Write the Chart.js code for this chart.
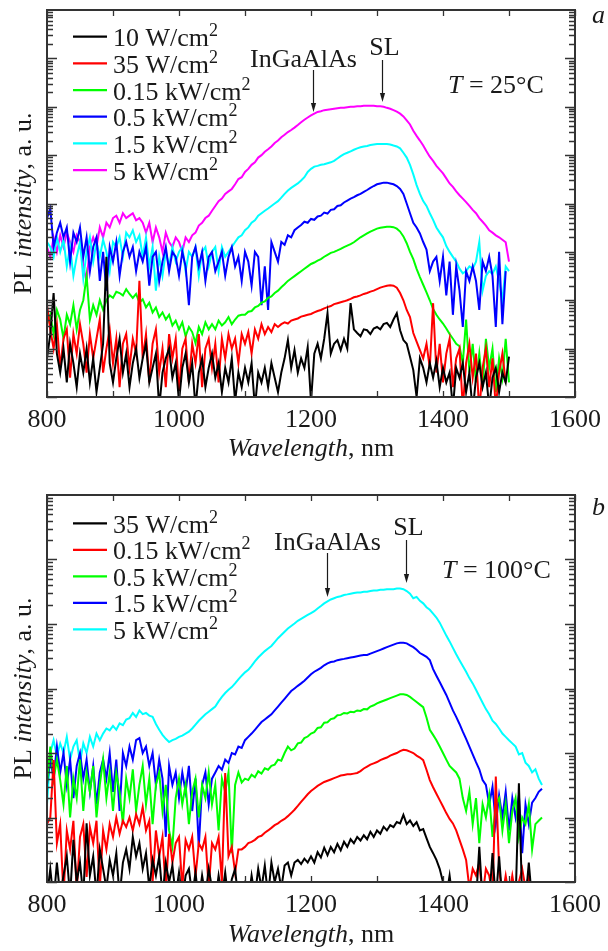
<!DOCTYPE html>
<html>
<head>
<meta charset="utf-8">
<script src="https://cdn.jsdelivr.net/npm/chart.js@4.4.1/dist/chart.umd.min.js"></script>
<style>
html, body { margin: 0; padding: 0; background: #fff; }
#wrap { position: relative; width: 608px; height: 951px; }
.box { position: absolute; left: 0; width: 608px; }
canvas { display: block; }
</style>
</head>
<body>
<div id="wrap">
  <div class="box" style="top:0;height:470px"><canvas id="chA" width="608" height="470"></canvas></div>
  <div class="box" style="top:470px;height:481px"><canvas id="chB" width="608" height="481"></canvas></div>
</div>
<script>
// wavelength grid (nm), 5 nm step
var wlA = [];
for (var w = 800; w <= 1500; w += 5) wlA.push(w);
var wlB = [];
for (var w2 = 800; w2 <= 1550; w2 += 5) wlB.push(w2);

var xTicks = [800, 900, 1000, 1100, 1200, 1300, 1400, 1500, 1600];
var xLabels = [800, 1000, 1200, 1400, 1600];

// panel a, T = 25 C
var namesA = ['10 W/cm²', '35 W/cm²', '0.15 kW/cm²', '0.5 kW/cm²', '1.5 kW/cm²', '5 kW/cm²'];
var colorsA = ['#000000', '#ff0000', '#00ff00', '#0000ff', '#00ffff', '#ff00ff'];

var a10W = [
6.3, 20, 141, 7.9, 3.2, 10, 2, 12.6, 5, 1.6,
7.9, 3.2, 10, 2, 6.3, 1.26, 4, 12.6, 794, 5,
2, 6.3, 16, 3.2, 7.9, 1.6, 5, 10, 2.5, 6.3,
12.6, 2, 4, 7.9, 0.6, 3.2, 6.3, 10, 2.5, 5,
0.8, 4, 7.9, 2, 5, 0.6, 3.2, 6.3, 1.6, 4,
7.9, 2.5, 5, 1.26, 4, 2, 6.3, 0.8, 3.2, 1.6,
4, 2, 5, 0.6, 3.2, 2, 4, 1.6, 5, 2.5,
1.26, 3.2, 6.3, 15, 4, 9.3, 3.2, 6.3, 4, 10.7,
0.8, 7.9, 12.6, 6.3, 16, 54, 7.9, 12.6, 15, 9.3,
16, 10, 87, 25, 21, 18, 25, 24, 20, 26,
28, 25, 32, 34, 28, 40, 54, 24, 15, 12.6,
6.8, 3.6, 1, 6.3, 4, 2, 5, 2.5, 5.6, 1.6,
4, 2, 3.2, 0.6, 4, 2.5, 5, 1.26, 3.2, 0.5,
2.5, 5, 1.6, 3.2, 0.6, 2.5, 4, 1.26, 3.2, 2, 6.8
];
var a35W = [
79, 25, 10, 32, 4, 16, 25, 2.5, 20, 7.9,
32, 12.6, 3.2, 20, 6.3, 16, 40, 3.2, 10, 25,
5, 16, 1.6, 12.6, 20, 4, 16, 7.9, 251, 6.3,
20, 2, 12.6, 25, 3.2, 10, 1.6, 20, 6.3, 16,
1.26, 10, 16, 2, 12.6, 5, 20, 1.6, 10, 16,
4, 12.6, 2, 16, 6.3, 20, 10, 16, 5, 20,
12.6, 22, 7.9, 25, 16, 32, 20, 28, 22, 32,
28, 32, 35, 33, 38, 40, 42, 46, 48, 50,
52, 56, 60, 63, 68, 72, 76, 83, 87, 91,
95, 100, 107, 115, 120, 126, 135, 141, 151, 158,
170, 182, 191, 200, 204, 200, 182, 141, 100, 63,
45, 21, 14, 9.3, 6.3, 12.6, 4, 87, 3.2, 12.6,
2, 7.9, 16, 1.6, 6.3, 10, 0.6, 5, 12.6, 2.5,
7.9, 0.5, 4, 10, 1.6, 6.3, 0.6, 3.2, 7.9, 2, null
];
var a015kW = [
32, 50, 20, 63, 40, 16, 50, 32, 79, 25,
63, 100, 320, 40, 79, 50, 100, 63, 100, 126,
112, 150, 141, 126, 170, 135, 112, 135, 89, 105,
71, 89, 56, 71, 45, 56, 40, 50, 30, 38,
25, 35, 18, 28, 22, 13, 28, 20, 35, 25,
32, 25, 38, 30, 35, 45, 32, 40, 48, 50,
50, 58, 60, 71, 76, 89, 95, 112, 120, 141,
158, 186, 214, 251, 282, 316, 355, 398, 447, 501,
562, 603, 661, 708, 794, 871, 955, 1000, 1070, 1150,
1260, 1350, 1450, 1580, 1780, 2000, 2190, 2400, 2630, 2820,
3020, 3160, 3240, 3310, 3310, 3240, 3020, 2630, 2090, 1510,
1000, 708, 447, 302, 209, 145, 100, 66, 50, 40,
33, 26, 20, 16, 12.6, 11.2, 5, 40, 3.2, 12.6,
2, 7.9, 1.6, 16, 4, 10, 1.26, 6.3, 2.5, 16, 2
];
var a05kW = [
5.0e3, 7.9e3, 1.26e3, 2.5e3, 4.0e3, 2.0e3, 3.2e3, 630, 2.5e3, 1.6e3,
3.2e3, 790, 2.0e3, 400, 1.26e3, 2.0e3, 250, 1.0e3, 158, 1.26e3,
630, 1.6e3, 320, 1.0e3, 1.6e3, 790, 1.26e3, 400, 1.0e3, 630,
1.26e3, 200, 790, 1.0e3, 250, 630, 1.26e3, 400, 1.0e3, 790,
320, 1.0e3, 500, 79, 790, 1.26e3, 500, 1.0e3, 250, 790,
1.0e3, 400, 630, 1.0e3, 320, 790, 1.26e3, 500, 790, 250,
1.0e3, 630, 200, 1.0e3, 790, 79, 500, 63, 1.6e3, 1.0e3,
630, 1.6e3, 1.4e3, 2.2e3, 2.0e3, 2.8e3, 3.2e3, 3.6e3, 4.2e3, 4.0e3,
4.8e3, 4.6e3, 5.4e3, 5.6e3, 6.5e3, 6.2e3, 7.4e3, 7.6e3, 8.9e3, 9.2e3,
1.05e4, 1.15e4, 1.26e4, 1.35e4, 1.48e4, 1.58e4, 1.74e4, 1.9e4, 2.1e4, 2.3e4,
2.5e4, 2.6e4, 2.7e4, 2.7e4, 2.6e4, 2.5e4, 2.3e4, 2.0e4, 1.58e4, 1.0e4,
6.3e3, 4.0e3, 3.2e3, 2.4e3, 1.6e3, 1.12e3, 400, 630, 790, 250,
790, 126, 630, 50, 500, 158, 28, 400, 250, 500,
250, 63, 630, 400, 790, 320, 28, 1.0e3, 32, 400, null
];
var a15kW = [
1.6e3, 1.26e3, 790, 2.0e3, 1.0e3, 1.78e3, 500, 1.26e3, 320, 790,
1.6e3, 280, 1.0e3, 2.0e3, 630, 1.6e3, 790, 1.78e3, 1.0e3, 400,
1.6e3, 1.26e3, 2.0e3, 790, 2.5e3, 2.0e3, 2.8e3, 1.6e3, 2.2e3, 790,
2.0e3, 500, 1.26e3, 158, 790, 320, 1.0e3, 500, 1.26e3, 630,
1.0e3, 1.26e3, 400, 1.0e3, 790, 1.26e3, 320, 1.0e3, 1.26e3, 500,
1.0e3, 1.26e3, 400, 1.26e3, 790, 1.0e3, 1.26e3, 1.6e3, 2.0e3, 2.2e3,
2.8e3, 3.2e3, 4.0e3, 4.5e3, 5.6e3, 6.3e3, 7.1e3, 7.9e3, 8.9e3, 1.0e4,
1.12e4, 1.32e4, 1.58e4, 1.86e4, 2.1e4, 2.34e4, 2.6e4, 3.0e4, 3.5e4, 4.5e4,
5.2e4, 5.8e4, 6.0e4, 6.3e4, 6.5e4, 6.8e4, 7.1e4, 7.6e4, 8.5e4, 9.5e4,
1.05e5, 1.12e5, 1.2e5, 1.29e5, 1.38e5, 1.45e5, 1.51e5, 1.55e5, 1.62e5, 1.66e5,
1.7e5, 1.7e5, 1.7e5, 1.7e5, 1.66e5, 1.58e5, 1.51e5, 1.38e5, 1.12e5, 8.9e4,
6.3e4, 4.0e4, 2.4e4, 1.58e4, 1.12e4, 8.9e3, 6.3e3, 4.6e3, 3.2e3, 2.5e3,
2.0e3, 1.32e3, 1.0e3, 790, 630, 450, 360, 400, 500, 450,
630, 1.6e3, 158, 320, 400, 350, 500, 250, 100, 500, 400
];
var a5kW = [
1.26e3, 790, 2.0e3, 1.0e3, 2.2e3, 1.26e3, 2.5e3, 1.6e3, 1.0e3, 2.2e3,
1.6e3, 500, 250, 1.26e3, 2.0e3, 1.26e3, 3.2e3, 2.0e3, 4.0e3, 3.2e3,
5.0e3, 5.6e3, 4.0e3, 6.3e3, 5.0e3, 5.6e3, 6.3e3, 4.5e3, 5.0e3, 4.0e3,
2.5e3, 4.0e3, 1.6e3, 3.2e3, 2.0e3, 1.0e3, 2.5e3, 1.6e3, 1.26e3, 2.0e3,
1.6e3, 1.0e3, 2.0e3, 1.6e3, 2.2e3, 2.5e3, 3.5e3, 4.0e3, 5.0e3, 5.6e3,
7.1e3, 8.9e3, 1.12e4, 1.26e4, 1.58e4, 1.78e4, 2.0e4, 2.5e4, 3.2e4, 3.5e4,
4.5e4, 5.2e4, 6.3e4, 7.1e4, 8.9e4, 1.0e5, 1.17e5, 1.32e5, 1.51e5, 1.78e5,
2.0e5, 2.34e5, 2.63e5, 3.0e5, 3.3e5, 3.7e5, 4.2e5, 4.8e5, 5.4e5, 6.0e5,
6.6e5, 7.2e5, 7.8e5, 8.1e5, 8.5e5, 8.7e5, 8.9e5, 9.1e5, 9.3e5, 9.5e5,
9.5e5, 9.8e5, 1.0e6, 1.0e6, 1.02e6, 1.02e6, 1.05e6, 1.05e6, 1.05e6, 1.05e6,
1.02e6, 1.02e6, 1.0e6, 9.5e5, 9.1e5, 8.5e5, 7.9e5, 7.2e5, 6.3e5, 5.2e5,
4.3e5, 3.2e5, 2.5e5, 2.0e5, 1.58e5, 1.2e5, 9.3e4, 7.6e4, 6.0e4, 5.0e4,
4.2e4, 3.3e4, 2.6e4, 2.2e4, 1.78e4, 1.48e4, 1.26e4, 1.07e4, 8.9e3, 7.4e3,
6.3e3, 5.0e3, 4.2e3, 3.5e3, 2.8e3, 2.5e3, 2.2e3, 2.0e3, 1.78e3, 1.58e3, 630
];

// panel b, T = 100 C
var namesB = ['35 W/cm²', '0.15 kW/cm²', '0.5 kW/cm²', '1.5 kW/cm²', '5 kW/cm²'];
var colorsB = ['#000000', '#ff0000', '#00ff00', '#0000ff', '#00ffff'];

var b35W = [
0.6, 1.6, 0.5, 2, 0.6, 1.26, 2.5, 0.6, 4.5, 1,
2, 0.6, 8.1, 1.26, 2.5, 0.6, 3.2, 1.6, 0.8, 2.2,
1.26, 2.8, 0.6, 2, 3.2, 1.6, 5, 2.5, 4, 1.6,
2.8, 0.8, 2.2, 1.26, 2.5, 0.6, 2, 1, 1.8, 0.6,
1.4, 0.5, 1.26, 1.6, 0.6, 1.4, 0.5, 1.26, 0.6, 1.6,
0.8, 0.5, 1.26, 0.6, 1.4, 0.5, 1.1, 1.6, 0.5, 0.8,
1, 0.5, 1.26, 0.6, 1.6, 0.8, 1.8, 0.6, 2, 1,
1.6, 0.8, 1.8, 2, 1.26, 2, 2.2, 1.9, 2.3, 2,
2.5, 2.0, 2.9, 2.4, 3.4, 2.6, 3.5, 2.9, 3.9, 3.1,
4.2, 3.5, 4.6, 4.0, 5.0, 4.4, 5.3, 4.6, 6.0, 5.0,
6.3, 5.6, 7.2, 6.3, 7.6, 7.1, 8.5, 8.1, 11, 7.9,
9, 7.4, 8.5, 6.3, 6.6, 4.8, 3.5, 2.8, 2.2, 1.6,
1, 0.6, 1.26, 0.5, 0.5, 0.5, 0.5, 0.5, 0.5, 0.5,
0.5, 3.5, 0.5, 0.5, 0.5, 2.8, 0.5, 2.5, 0.5, 0.5,
0.5, 0.5, 0.5, 34, 0.5, 0.5, 2, 0.5, null, null, null
];
var b015kW = [
7.9, 10, 78, 4, 7.9, 0.6, 6.3, 3.2, 8.9, 0.7,
5, 7.9, 1.2, 7.1, 4, 8.9, 0.8, 6.3, 3.2, 7.9,
5, 10, 5.6, 8.9, 7.1, 10, 6.3, 11.2, 7.9, 14.5,
6.3, 8.9, 1.0, 6.3, 2.5, 5, 0.7, 5.6, 2, 4,
5, 0.8, 4.5, 3.2, 5, 1.2, 4, 3.2, 5, 0.8,
4, 3.2, 5, 1.0, 49, 2.5, 3.5, 1.4, 3.2, 3.2,
3.5, 4, 4.2, 4.5, 5, 5.2, 5.8, 6.3, 6.9, 7.6,
8.1, 8.9, 9.5, 10.5, 11.7, 13.2, 15.1, 17.4, 20, 22.9,
25.7, 28.2, 30.9, 33.1, 35.5, 37.2, 38.9, 40.7, 42.7, 44.7,
45.7, 46.8, 46.8, 47.9, 49, 52.5, 57.5, 61.7, 66.1, 69.2,
72.4, 77.6, 81.3, 85.1, 91.2, 95.5, 100, 107, 112, 110,
105, 100, 91.2, 85.1, 77.6, 55, 38, 29.5, 23.4, 18.6,
14.8, 11.7, 9.5, 8.1, 6.3, 4.5, 3.2, 2.2, 0.8, 1.6,
1.26, 2, 0.6, 1.6, 1.26, 0.6, 43, 1.6, 0.6, 1.26,
0.6, 1.26, 0.6, 1, 1.6, 0.8, 1.26, 0.6, null, null, null
];
var b05kW = [
32, 126, 40, 79, 38, 16, 63, 10, 40, 20,
79, 12.6, 50, 25, 63, 10, 32, 79, 20, 50,
12.6, 49, 25, 7.9, 40, 20, 56, 12.6, 32, 63,
16, 40, 7.9, 32, 50, 12.6, 32, 6.3, 3.5, 20,
40, 16, 32, 7.9, 25, 40, 10, 32, 20, 50,
16, 32, 6.3, 40, 25, 50, 2.8, 32, 50, 35,
40, 38, 46, 42, 52, 48, 58, 55, 63, 66,
79, 76, 100, 126, 110, 117, 141, 145, 170, 180,
200, 210, 245, 250, 295, 300, 335, 345, 385, 390,
417, 410, 437, 430, 457, 450, 479, 475, 525, 550,
589, 617, 646, 676, 708, 741, 776, 813, 813, 794,
741, 676, 617, 562, 513, 355, 229, 191, 158, 126,
100, 79, 63, 56, 50, 40, 20, 12.6, 25, 7.9,
20, 4, 16, 10, 22, 5, 16, 20, 6.3, 16,
4, 12.6, 20, 5, 10, 7.9, 16, 3.2, 7.9, 8.9, 10
];
var b15kW = [
32, 79, 40, 126, 50, 100, 32, 79, 20, 63,
100, 40, 79, 25, 63, 16, 50, 79, 40, 100,
25, 79, 12.6, 100, 63, 126, 79, 158, 170, 100,
126, 63, 100, 32, 79, 40, 5, 63, 32, 50,
20, 50, 25, 63, 12.6, 40, 3.5, 32, 50, 16,
40, 50, 63, 55, 79, 70, 100, 95, 126, 120,
158, 178, 200, 229, 263, 302, 331, 363, 398, 457,
525, 603, 692, 794, 912, 1000, 1100, 1200, 1320, 1480,
1660, 1820, 1950, 2090, 2290, 2450, 2570, 2630, 2750, 2820,
2880, 2950, 3020, 3090, 3160, 3240, 3310, 3310, 3470, 3630,
3800, 3980, 4170, 4370, 4570, 4790, 5010, 5130, 5130, 5010,
4680, 4370, 3980, 3550, 3310, 3090, 2750, 2000, 1580, 1260,
1000, 794, 603, 457, 363, 282, 214, 166, 126, 95,
72, 56, 38, 32, 16, 30, 7.9, 22, 10, 25,
6.3, 20, 10, 22, 2.8, 16, 7.9, 17, 20, 25, 28
];
var b5kW = [
16, 100, 158, 89, 141, 100, 178, 79, 126, 158,
71, 141, 100, 178, 126, 200, 158, 200, 240, 224,
263, 229, 288, 270, 331, 347, 417, 363, 457, 400,
417, 380, 363, 282, 229, 191, 166, 148, 158, 166,
178, 186, 200, 214, 240, 275, 316, 355, 398, 437,
479, 525, 631, 741, 851, 955, 1050, 1200, 1380, 1580,
1780, 1950, 2240, 2630, 3020, 3390, 3800, 4170, 4570, 5250,
6030, 6760, 7590, 8510, 9330, 1.02e4, 1.12e4, 1.2e4, 1.29e4, 1.38e4,
1.48e4, 1.58e4, 1.74e4, 1.9e4, 2.09e4, 2.24e4, 2.4e4, 2.51e4, 2.63e4, 2.69e4,
2.82e4, 2.88e4, 2.95e4, 3.02e4, 3.09e4, 3.09e4, 3.16e4, 3.16e4, 3.24e4, 3.31e4,
3.31e4, 3.39e4, 3.39e4, 3.47e4, 3.47e4, 3.47e4, 3.55e4, 3.55e4, 3.47e4, 3.24e4,
2.95e4, 2.51e4, 2.63e4, 2.29e4, 2.09e4, 1.82e4, 1.66e4, 1.45e4, 1.26e4, 1.05e4,
8320, 6610, 5370, 4270, 3390, 2750, 2240, 1820, 1450, 1200,
955, 759, 603, 479, 398, 316, 282, 240, 200, 178,
158, 141, 126, 95, 100, 71, 63, 50, 56, 40, 32
];

var FONT = '"Liberation Serif", "Times New Roman", serif';
var INK = '#1a1a1a';

function fontFor(style, size) {
    if (style === 'i') return 'italic ' + size + 'px ' + FONT;
    if (style === 's') return Math.round(size * 0.68) + 'px ' + FONT;
    return size + 'px ' + FONT;
}

// runs: [[text, style]] with style '' normal, 'i' italic, 's' superscript
function drawRuns(ctx, runs, x, y, align, size) {
    var total = 0, i;
    for (i = 0; i < runs.length; i++) {
        ctx.font = fontFor(runs[i][1], size);
        total += ctx.measureText(runs[i][0]).width;
    }
    var cx = x;
    if (align === 'center') cx = x - total / 2;
    ctx.textAlign = 'left';
    ctx.textBaseline = 'alphabetic';
    for (i = 0; i < runs.length; i++) {
        ctx.font = fontFor(runs[i][1], size);
        var dy = runs[i][1] === 's' ? -size * 0.38 : 0;
        ctx.fillText(runs[i][0], cx, y + dy);
        cx += ctx.measureText(runs[i][0]).width;
    }
}

function unitRuns(label) {
    var p = label.split('²');
    return [[p[0], ''], ['2', 's']];
}

function arrow(ctx, x, y1, y2) {
    ctx.beginPath();
    ctx.moveTo(x, y1);
    ctx.lineTo(x, y2 - 6);
    ctx.stroke();
    ctx.beginPath();
    ctx.moveTo(x - 2.6, y2 - 9);
    ctx.lineTo(x + 2.6, y2 - 9);
    ctx.lineTo(x, y2);
    ctx.closePath();
    ctx.fill();
}

function decoPlugin(d) {
    return {
        id: 'deco',
        afterDraw: function (chart) {
            var ctx = chart.ctx, a = chart.chartArea;
            var xs = chart.scales.x, ys = chart.scales.y;
            var i, k, e, px, py, len;
            ctx.save();
            ctx.strokeStyle = '#333333';
            ctx.fillStyle = INK;

            // ticks
            ctx.lineWidth = 1.3;
            ctx.beginPath();
            for (i = 0; i < xTicks.length; i++) {
                px = Math.round(xs.getPixelForValue(xTicks[i])) + 0.5;
                ctx.moveTo(px, a.bottom); ctx.lineTo(px, a.bottom - 6);
                ctx.moveTo(px, a.top); ctx.lineTo(px, a.top + 6);
            }
            for (e = 0; e < d.decades; e++) {
                for (k = 1; k <= 9; k++) {
                    py = Math.round(ys.getPixelForValue(k * Math.pow(10, e))) + 0.5;
                    len = k === 1 ? 10 : 6;
                    ctx.moveTo(a.left, py); ctx.lineTo(a.left + len, py);
                    ctx.moveTo(a.right, py); ctx.lineTo(a.right - len, py);
                }
            }
            ctx.stroke();

            // frame
            ctx.lineWidth = 2;
            ctx.strokeRect(a.left, a.top, a.right - a.left, a.bottom - a.top);

            // tick labels and axis titles
            for (i = 0; i < xLabels.length; i++) {
                drawRuns(ctx, [[String(xLabels[i]), '']], xs.getPixelForValue(xLabels[i]), a.bottom + d.tickGap, 'center', 26);
            }
            drawRuns(ctx, [['Wavelength', 'i'], [', nm', '']], (a.left + a.right) / 2, a.bottom + d.titleGap, 'center', 26);
            ctx.save();
            ctx.translate(31, (a.top + a.bottom) / 2);
            ctx.rotate(-Math.PI / 2);
            drawRuns(ctx, [['PL ', ''], ['intensity', 'i'], [', a. u.', '']], 0, 0, 'center', 26);
            ctx.restore();

            // legend
            var ds = chart.data.datasets;
            for (i = 0; i < ds.length; i++) {
                var ly = d.legendTop + i * d.legendStep;
                ctx.strokeStyle = ds[i].borderColor;
                ctx.lineWidth = 2.2;
                ctx.beginPath();
                ctx.moveTo(73, ly); ctx.lineTo(107, ly);
                ctx.stroke();
                drawRuns(ctx, unitRuns(ds[i].label), 113, ly + 9.5, 'left', 26);
            }

            // peak markers
            ctx.strokeStyle = INK;
            ctx.lineWidth = 1.2;
            for (i = 0; i < d.peaks.length; i++) {
                var pk = d.peaks[i];
                px = Math.round(xs.getPixelForValue(pk.wl)) + 0.5;
                drawRuns(ctx, [[pk.text, '']], px + pk.dx, pk.textY, 'center', 26);
                arrow(ctx, px, pk.y1, pk.y2);
            }
            drawRuns(ctx, [['T', 'i'], [' = ' + d.temp, '']], d.tempX, d.tempY, 'left', 26);
            drawRuns(ctx, [[d.letter, 'i']], 592, d.letterY, 'left', 26);
            ctx.restore();
        }
    };
}

function makeChart(id, wl, series, names, colors, yMax, d) {
    var datasets = [];
    for (var i = 0; i < series.length; i++) {
        var pts = [];
        for (var j = 0; j < wl.length; j++) pts.push({ x: wl[j], y: series[i][j] });
        datasets.push({
            label: names[i],
            data: pts,
            borderColor: colors[i],
            backgroundColor: colors[i],
            borderWidth: 2,
            pointRadius: 0,
            fill: false,
            tension: 0,
            spanGaps: false,
            clip: 0
        });
    }
    return new Chart(document.getElementById(id), {
        type: 'line',
        data: { datasets: datasets },
        options: {
            responsive: false,
            animation: false,
            events: [],
            layout: { padding: d.pad },
            plugins: { legend: { display: false }, tooltip: { enabled: false } },
            scales: {
                x: { type: 'linear', min: 800, max: 1600, display: false },
                y: { type: 'logarithmic', min: 1, max: yMax, display: false }
            }
        },
        plugins: [decoPlugin(d)]
    });
}

makeChart('chA', wlA, [a10W, a35W, a015kW, a05kW, a15kW, a5kW], namesA, colorsA, 1e8, {
    pad: { left: 47, right: 33, top: 10, bottom: 73 },
    decades: 8, tickGap: 30, titleGap: 59,
    legendTop: 36.7, legendStep: 26.67,
    peaks: [
        { text: 'InGaAlAs', wl: 1203, dx: -10, textY: 67, y1: 70, y2: 112 },
        { text: 'SL', wl: 1307, dx: 2, textY: 55, y1: 60, y2: 102 }
    ],
    temp: '25°C', tempX: 448, tempY: 93,
    letter: 'a', letterY: 23
});

makeChart('chB', wlB, [b35W, b015kW, b05kW, b15kW, b5kW], namesB, colorsB, 1e6, {
    pad: { left: 47, right: 33, top: 25, bottom: 69 },
    decades: 6, tickGap: 30, titleGap: 60,
    legendTop: 53.3, legendStep: 26.5,
    peaks: [
        { text: 'InGaAlAs', wl: 1224, dx: 0, textY: 80, y1: 83, y2: 127 },
        { text: 'SL', wl: 1344, dx: 2, textY: 65, y1: 70, y2: 113 }
    ],
    temp: '100°C', tempX: 442, tempY: 108,
    letter: 'b', letterY: 45
});
</script>
</body>
</html>
